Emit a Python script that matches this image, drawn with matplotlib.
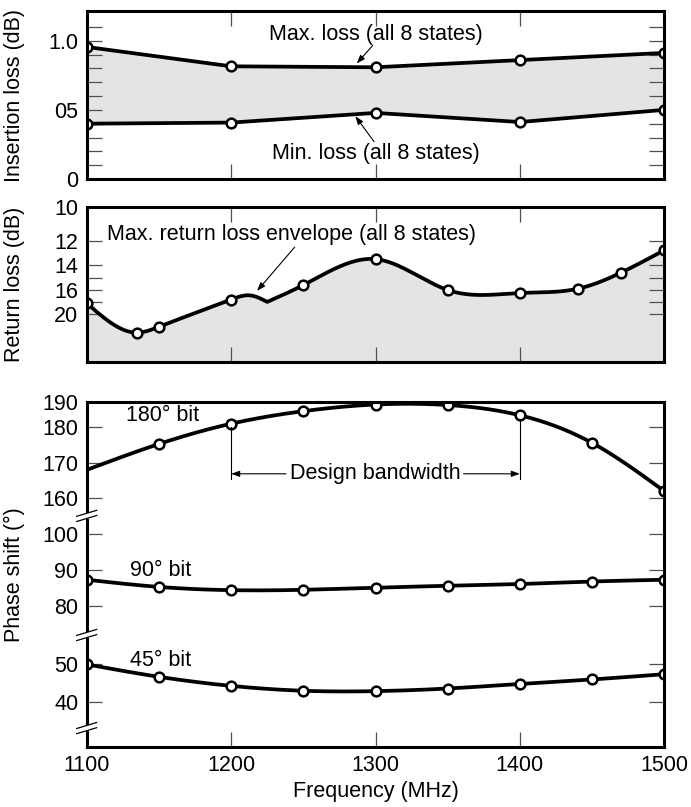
import numpy as np
import matplotlib
matplotlib.use('Agg')
import matplotlib.pyplot as plt

plt.rcParams['font.family'] = ['Liberation Sans', 'DejaVu Sans']

# ---- data -------------------------------------------------------------
il_freq = [1100, 1200, 1300, 1400, 1500]
il_max = [0.955, 0.815, 0.808, 0.86, 0.912]
il_min = [0.40, 0.408, 0.478, 0.412, 0.50]

rl_freq = [1100, 1135, 1150, 1200, 1213, 1225, 1250, 1300, 1350, 1400, 1440, 1470, 1500]
rl_db = [18.2, 23.3, 22.3, 17.6, 16.9, 18.0, 15.6, 13.5, 16.0, 16.5, 15.9, 14.6, 12.75]
rl_marked = [True, True, True, True, False, False, True, True, True, True, True, True, True]
rl_kink = 1225

ph_freq = [1100, 1150, 1200, 1250, 1300, 1350, 1400, 1450, 1500]
ph_180 = [168.0, 175.3, 181.4, 186.3, 188.9, 188.7, 184.7, 175.6, 162.0]
ph_90 = [87.3, 85.3, 84.4, 84.5, 85.1, 85.6, 86.1, 86.8, 87.3]
ph_45 = [49.9, 46.6, 44.2, 42.9, 42.8, 43.5, 44.7, 45.9, 47.3]

x_ticks = [1100, 1200, 1300, 1400, 1500]
il_ticks = [0, 0.5, 1.0]
il_labels = ['0', '05', '1.0']
rl_ticks = [10, 12, 14, 16, 20]
rl_minor = [15, 18]
ph_ticks = [40, 50, 80, 90, 100, 160, 170, 180, 190]

# uneven axis spacing as drawn in the original (value -> pixel row)
rl_knots = [10, 12, 14, 15, 16, 18, 20]
rl_rows = [207.3, 241.2, 265.1, 277.7, 290.0, 301.9, 313.5]
ph_knots = [40, 50, 80, 90, 100, 160, 170, 180, 190]
ph_rows = [701.7, 664.0, 606.0, 570.0, 533.5, 498.3, 462.8, 427.3, 401.7]

FILL = '#e4e4e4'
TICK = '#505050'
FS = 15.5


def piecewise(xp, fp):
    xp = np.asarray(xp, float)
    fp = np.asarray(fp, float)
    s0 = (fp[1] - fp[0]) / (xp[1] - xp[0])
    s1 = (fp[-1] - fp[-2]) / (xp[-1] - xp[-2])

    def f(v):
        v = np.asarray(v, float)
        out = np.interp(v, xp, fp)
        out = np.where(v < xp[0], fp[0] + (v - xp[0]) * s0, out)
        out = np.where(v > xp[-1], fp[-1] + (v - xp[-1]) * s1, out)
        return out
    return f


def spline(x, y, n=40):
    # natural cubic spline, only used to draw a smooth curve through the points
    x = np.asarray(x, float)
    y = np.asarray(y, float)
    k = len(x)
    h = np.diff(x)
    A = np.zeros((k, k))
    r = np.zeros(k)
    A[0, 0] = A[-1, -1] = 1
    for i in range(1, k - 1):
        A[i, i - 1] = h[i - 1]
        A[i, i] = 2 * (h[i - 1] + h[i])
        A[i, i + 1] = h[i]
        r[i] = 3 * ((y[i + 1] - y[i]) / h[i] - (y[i] - y[i - 1]) / h[i - 1])
    c = np.linalg.solve(A, r)
    b = (y[1:] - y[:-1]) / h - h * (2 * c[:-1] + c[1:]) / 3
    d = (c[1:] - c[:-1]) / (3 * h)
    xs = np.linspace(x[0], x[-1], n * (k - 1))
    idx = np.clip(np.searchsorted(x, xs) - 1, 0, k - 2)
    dx = xs - x[idx]
    ys = y[idx] + b[idx] * dx + c[idx] * dx ** 2 + d[idx] * dx ** 3
    return xs, ys


def smooth_in_scale(x, y, fwd, inv):
    xs, ys = spline(x, fwd(y))
    return xs, inv(ys)


def style(ax, top=True):
    for s in ax.spines.values():
        s.set_linewidth(2.2)
    ax.set_xlim(1100, 1500)
    ax.set_xticks([1200, 1300, 1400])
    ax.tick_params(which='both', direction='in', length=11, width=0.9,
                   color=TICK, left=True, right=True, top=top, bottom=True,
                   labelsize=FS, pad=6)
    ax.tick_params(axis='x', labelbottom=False)


fig = plt.figure(figsize=(6.91, 8.07), dpi=100)
L, W = 86.7 / 691, (664.3 - 86.7) / 691


def rect(top, bottom):
    return [L, 1 - bottom / 807, W, (bottom - top) / 807]


mk = dict(marker='o', markersize=7, markerfacecolor='white',
          markeredgecolor='black', markeredgewidth=1.8)

# ---- insertion loss ---------------------------------------------------
ax1 = fig.add_axes(rect(11, 179))
style(ax1)
ax1.fill_between(il_freq, il_min, il_max, color=FILL, lw=0)
ax1.plot(il_freq, il_max, color='black', lw=2.7, **mk)
ax1.plot(il_freq, il_min, color='black', lw=2.7, **mk)
ax1.set_ylim(0, 1.215)
ax1.set_yticks(il_ticks)
ax1.set_yticklabels(il_labels)
ax1.set_yticks(np.arange(0.1, 1.2, 0.1), minor=True)
ax1.set_ylabel('Insertion loss (dB)', fontsize=FS)
ax1.yaxis.set_label_coords(-0.106, 0.5)
ax1.text(1300, 1.045, 'Max. loss (all 8 states)', ha='center', va='center', fontsize=FS)
ax1.text(1300, 0.182, 'Min. loss (all 8 states)', ha='center', va='center', fontsize=FS)
arr = dict(arrowstyle='-|>,head_length=0.5,head_width=0.18', lw=0.8, color='black',
           shrinkA=0, shrinkB=0)
ax1.annotate('', xy=(1287, 0.835), xytext=(1298, 0.965), arrowprops=arr)
ax1.annotate('', xy=(1286, 0.455), xytext=(1299, 0.27), arrowprops=arr)

# ---- return loss ------------------------------------------------------
rl_fwd = piecewise(rl_knots, rl_rows)
rl_inv = piecewise(rl_rows, rl_knots)
ax2 = fig.add_axes(rect(207.3, 362.3))
ax2.set_yscale('function', functions=(rl_fwd, rl_inv))
style(ax2)
ax2.set_ylim(float(rl_inv(362.3)), 10)
k = rl_freq.index(rl_kink)
xa, ya = smooth_in_scale(rl_freq[:k + 1], rl_db[:k + 1], rl_fwd, rl_inv)
xb, yb = smooth_in_scale(rl_freq[k:], rl_db[k:], rl_fwd, rl_inv)
xs = np.concatenate([xa, xb])
ys = np.concatenate([ya, yb])
ax2.fill_between(xs, ys, 40, color=FILL, lw=0)
ax2.plot(xs, ys, color='black', lw=2.7)
mf = [f for f, m in zip(rl_freq, rl_marked) if m]
mv = [v for v, m in zip(rl_db, rl_marked) if m]
ax2.plot(mf, mv, ls='none', **mk)
ax2.set_yticks(rl_ticks)
ax2.set_yticklabels([str(t) for t in rl_ticks])
ax2.set_yticks(rl_minor, minor=True)
ax2.set_ylabel('Return loss (dB)', fontsize=FS)
ax2.yaxis.set_label_coords(-0.106, 0.5)
ax2.text(1114, 11.6, 'Max. return loss envelope (all 8 states)', ha='left', va='center',
         fontsize=FS)
ax2.annotate('', xy=(1218, 16.15), xytext=(1244, 12.5), arrowprops=arr)

# ---- phase shift ------------------------------------------------------
ph_fwd = piecewise(ph_knots, [-r for r in ph_rows])
ph_inv = piecewise([-r for r in ph_rows], ph_knots)
ax3 = fig.add_axes(rect(401.7, 747))
ax3.set_yscale('function', functions=(ph_fwd, ph_inv))
style(ax3, top=False)
ax3.set_ylim(float(ph_inv(-747)), 190)
ax3.tick_params(axis='x', labelbottom=True, pad=6)
ax3.set_xticks(x_ticks)
ax3.set_yticks(ph_ticks)
ax3.set_yticklabels([str(t) for t in ph_ticks])
for series in (ph_180, ph_90, ph_45):
    xs, ys = smooth_in_scale(ph_freq, series, ph_fwd, ph_inv)
    ax3.plot(xs, ys, color='black', lw=2.7)
ax3.plot(ph_freq[1:], ph_180[1:], ls='none', **mk)
ax3.plot(ph_freq, ph_90, ls='none', **mk)
ax3.plot(ph_freq, ph_45, ls='none', **mk)
ax3.text(1127, 184.8, '180° bit', ha='left', va='center', fontsize=FS)
ax3.text(1130, 89.8, '90° bit', ha='left', va='center', fontsize=FS)
ax3.text(1130, 51.9, '45° bit', ha='left', va='center', fontsize=FS)
ax3.set_ylabel('Phase shift (°)', fontsize=FS)
ax3.yaxis.set_label_coords(-0.106, 0.5)
ax3.set_xlabel('Frequency (MHz)', fontsize=FS, labelpad=3)

# design bandwidth marker
ax3.plot([1200, 1200], [180.3, 165.5], color='black', lw=0.8)
ax3.plot([1400, 1400], [183.3, 165.5], color='black', lw=0.8)
ax3.text(1300, 166.9, 'Design bandwidth', ha='center', va='center', fontsize=FS)
ax3.annotate('', xy=(1200, 166.9), xytext=(1238, 166.9), arrowprops=arr)
ax3.annotate('', xy=(1400, 166.9), xytext=(1361, 166.9), arrowprops=arr)

# axis break marks on the left spine
fig.canvas.draw()
to_ax = ax3.transAxes.inverted()
for yv in (130, 65, 33):
    ya_ = to_ax.transform(ax3.transData.transform((1100, yv)))[1]
    dy = 2.6 / 345.3
    ax3.plot([0, 0], [ya_ - dy, ya_ + dy], color='white', lw=4, transform=ax3.transAxes,
             clip_on=False, zorder=5, solid_capstyle='butt')
    for off in (-dy, dy):
        ax3.plot([-10 / 577.6, 10 / 577.6], [ya_ + off - 3 / 345.3, ya_ + off + 3 / 345.3],
                 color='black', lw=0.9, transform=ax3.transAxes, clip_on=False, zorder=6)

fig.savefig('out.png', dpi=100)
